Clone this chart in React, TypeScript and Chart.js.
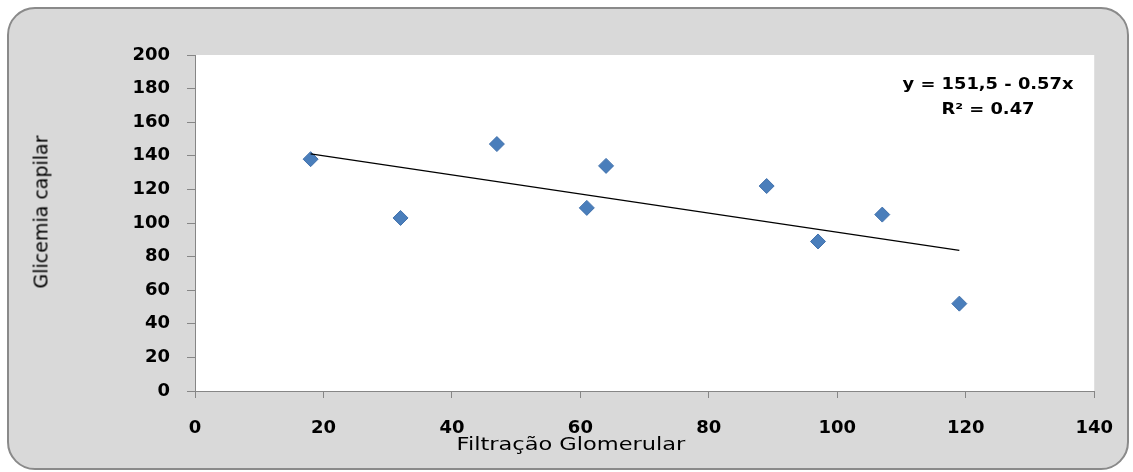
import React, { useEffect, useRef } from "react";
import { Chart, registerables } from "chart.js";

Chart.register(...registerables);

// ---- data ----
const glomerularFiltration = [18, 32, 47, 61, 64, 89, 97, 107, 119];
const capillaryGlycemia = [138, 103, 147, 109, 134, 122, 89, 105, 52];
const trendX = [18, 119];
const trendY = [141.2, 83.7];
const xRange = [0, 140];
const yRange = [0, 200];
const tickStep = 20;
const xTitle = "Filtração Glomerular";
const yTitle = "Glicemia capilar";
const equationLines = ["y = 151,5 - 0.57x", "R² = 0.47"];

const W = 1133;
const H = 472;

const plotBg = {
  id: "plotBg",
  beforeDraw(chart: any) {
    const { ctx, chartArea } = chart;
    ctx.save();
    ctx.fillStyle = "#ffffff";
    ctx.fillRect(chartArea.left, chartArea.top, chartArea.right - chartArea.left, chartArea.bottom - chartArea.top);
    ctx.restore();
  },
};

export default function App() {
  const ref = useRef<HTMLCanvasElement | null>(null);

  useEffect(() => {
    if (!ref.current) return;
    const tickFont = { family: "'DejaVu Sans'", size: 18, weight: "bold" as const };
    const chart = new Chart(ref.current, {
      type: "scatter",
      data: {
        datasets: [
          {
            label: "trend",
            data: trendX.map((x, i) => ({ x, y: trendY[i] })),
            showLine: true,
            borderColor: "#000000",
            borderWidth: 1.2,
            pointRadius: 0,
            backgroundColor: "#000000",
          },
          {
            label: "data",
            data: glomerularFiltration.map((x, i) => ({ x, y: capillaryGlycemia[i] })),
            pointStyle: "rectRot",
            pointRadius: 7.5,
            backgroundColor: "#4a7ebb",
            borderColor: "#4272ad",
            borderWidth: 1,
          },
        ],
      },
      options: {
        responsive: false,
        animation: false,
        devicePixelRatio: 1,
        layout: { padding: { left: 0, top: 55, right: 36, bottom: 0 } },
        plugins: { legend: { display: false }, tooltip: { enabled: false } },
        scales: {
          x: {
            type: "linear",
            min: xRange[0],
            max: xRange[1],
            ticks: { stepSize: tickStep, font: tickFont, color: "#000000", padding: 20, maxRotation: 0 },
            grid: { drawOnChartArea: false, drawTicks: true, tickLength: 7, color: "#868686" },
            border: { color: "#868686", width: 1 },
            afterFit(s: any) {
              s.height = 81;
            },
          },
          y: {
            type: "linear",
            min: yRange[0],
            max: yRange[1],
            ticks: { stepSize: tickStep, font: tickFont, color: "#000000", padding: 17 },
            grid: { drawOnChartArea: false, drawTicks: true, tickLength: 8, color: "#868686" },
            border: { color: "#868686", width: 1 },
            afterFit(s: any) {
              s.width = 195;
            },
          },
        },
      },
      plugins: [plotBg],
    } as any);
    return () => chart.destroy();
  }, []);

  return (
    <div style={{ position: "fixed", left: 0, top: 0, width: W, height: H, overflow: "hidden", background: "#ffffff" }}>
      <div
        style={{
          position: "absolute",
          left: 7,
          top: 7,
          width: 1122,
          height: 463,
          boxSizing: "border-box",
          border: "2px solid #8a8a8a",
          borderRadius: 28,
          background: "#d9d9d9",
        }}
      />
      <canvas ref={ref} width={W} height={H} style={{ position: "absolute", left: 0, top: 0, width: W, height: H }} />
      <div
        style={{
          position: "absolute",
          left: 41,
          top: 212,
          transform: "translate(-50%, -50%) rotate(-90deg)",
          fontFamily: "'DejaVu Sans'",
          fontSize: 19,
          lineHeight: 1,
          whiteSpace: "nowrap",
          color: "#000",
        }}
      >
        {yTitle}
      </div>
      <div
        style={{
          position: "absolute",
          left: 571,
          top: 435,
          transform: "translateX(-50%) scaleX(1.25)",
          fontFamily: "'DejaVu Sans'",
          fontSize: 18,
          lineHeight: 1,
          whiteSpace: "nowrap",
          color: "#000",
        }}
      >
        {xTitle}
      </div>
      {equationLines.map((t, i) => (
        <div
          key={i}
          style={{
            position: "absolute",
            left: 988,
            top: 77 + i * 25,
            transform: "translateX(-50%) scaleX(1.19)",
            fontFamily: "'DejaVu Sans'",
            fontWeight: "bold",
            fontSize: 15,
            lineHeight: 1,
            whiteSpace: "nowrap",
            color: "#000",
          }}
        >
          {t}
        </div>
      ))}
    </div>
  );
}
